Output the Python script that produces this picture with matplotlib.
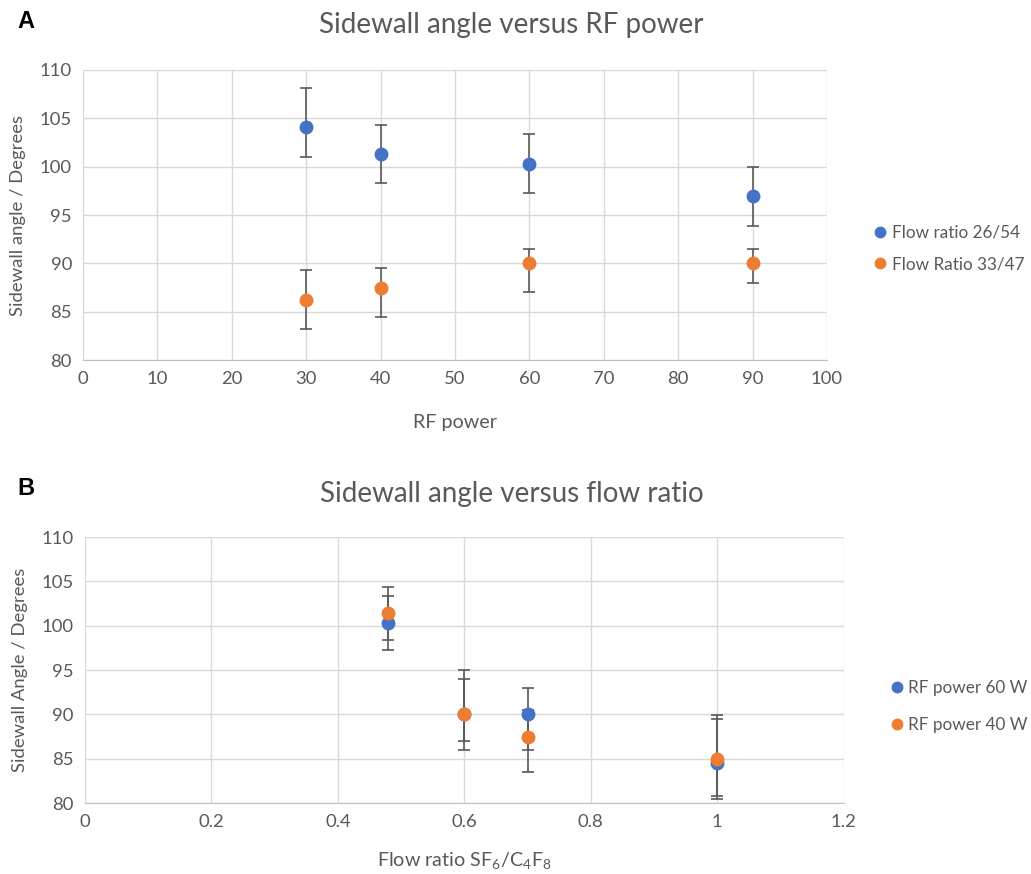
import matplotlib.pyplot as plt
from matplotlib.lines import Line2D
import numpy as np

# panel A data
rf_power = [30, 40, 60, 90]
flow_26_54 = [104.05, 101.35, 100.3, 96.95]
flow_26_54_up = [4.05, 3.0, 3.1, 3.0]
flow_26_54_dn = [3.05, 3.0, 3.0, 3.1]
flow_33_47 = [86.2, 87.5, 90.0, 90.0]
flow_33_47_up = [3.1, 2.0, 1.5, 1.5]
flow_33_47_dn = [3.0, 3.0, 3.0, 2.0]

# panel B data
flow_ratio = [0.48, 0.6, 0.7, 1.0]
rf60 = [100.3, 90.0, 90.0, 84.5]
rf60_up = [3.0, 5.0, 3.0, 5.0]
rf60_dn = [3.0, 4.0, 4.0, 4.0]
rf40 = [101.4, 90.0, 87.5, 85.0]
rf40_up = [3.0, 4.0, 3.0, 4.9]
rf40_dn = [3.0, 3.0, 4.0, 4.2]

blue = '#4472C4'
orange = '#ED7D31'
grey_txt = '#595959'
grid_c = '#D9D9D9'

plt.rcParams['font.family'] = ['Lato', 'DejaVu Sans']
plt.rcParams['mathtext.fontset'] = 'custom'
plt.rcParams['mathtext.rm'] = 'Lato'
plt.rcParams['mathtext.it'] = 'Lato'

fig = plt.figure(figsize=(10.31, 8.74), dpi=100)
axA = fig.add_axes([0.0805, 0.588, 0.7216, 0.332])
axB = fig.add_axes([0.0824, 0.0812, 0.736, 0.3043])


def style(ax):
	for s in ['top', 'right', 'left']:
		ax.spines[s].set_visible(False)
	ax.spines['bottom'].set_color('#BFBFBF')
	ax.grid(True, color=grid_c, linewidth=1)
	ax.set_axisbelow(True)
	ax.tick_params(length=0, colors=grey_txt, labelsize=13.3, pad=8)
	ax.set_ylim(80, 110)
	ax.set_yticks(np.arange(80, 111, 5))


def points(ax, x, y, up, dn, col):
	ax.errorbar(x, y, yerr=[dn, up], fmt='o', color=col, ecolor='#595959',
		elinewidth=1.2, capsize=4, capthick=1.2, markersize=9)


def legend(ax, labels, x, y, gap):
	hs = [Line2D([], [], marker='o', ls='none', color=c, markersize=7.5) for c in [blue, orange]]
	ax.legend(hs, labels, loc='center left', bbox_to_anchor=(x, y), bbox_transform=fig.transFigure,
		frameon=False, handlelength=0.6, handletextpad=0.35, borderpad=0, borderaxespad=0,
		labelcolor=grey_txt, fontsize=12.3, labelspacing=gap)


style(axA)
points(axA, rf_power, flow_26_54, flow_26_54_up, flow_26_54_dn, blue)
points(axA, rf_power, flow_33_47, flow_33_47_up, flow_33_47_dn, orange)
axA.set_xlim(0, 100)
axA.set_xticks(np.arange(0, 101, 10))
axA.set_xlabel('RF power', color=grey_txt, fontsize=14.2, labelpad=19)
axA.set_ylabel('Sidewall angle / Degrees', color=grey_txt, fontsize=13.3, labelpad=10)
legend(axA, ['Flow ratio 26/54', 'Flow Ratio 33/47'], 0.849, 0.7157, 0.9)

style(axB)
points(axB, flow_ratio, rf60, rf60_up, rf60_dn, blue)
points(axB, flow_ratio, rf40, rf40_up, rf40_dn, orange)
axB.set_xlim(0, 1.2)
axB.set_xticks([0, 0.2, 0.4, 0.6, 0.8, 1.0, 1.2])
axB.set_xticklabels(['0', '0.2', '0.4', '0.6', '0.8', '1', '1.2'])
axB.set_xlabel('Flow ratio SF$_6$/C$_4$F$_8$', color=grey_txt, fontsize=14.2, labelpad=14)
axB.set_ylabel('Sidewall Angle / Degrees', color=grey_txt, fontsize=13.3, labelpad=10)
legend(axB, ['RF power 60 W', 'RF power 40 W'], 0.865, 0.1916, 1.25)

fig.text(0.496, 0.971, 'Sidewall angle versus RF power', color=grey_txt, fontsize=20, ha='center', va='center')
fig.text(0.496, 0.4348, 'Sidewall angle versus flow ratio', color=grey_txt, fontsize=20, ha='center', va='center')

fig.text(0.017, 0.975, 'A', fontsize=17, fontweight='bold', family='Liberation Sans', va='center')
fig.text(0.017, 0.4416, 'B', fontsize=17, fontweight='bold', family='Liberation Sans', va='center')

plt.savefig('out.png', dpi=100)
